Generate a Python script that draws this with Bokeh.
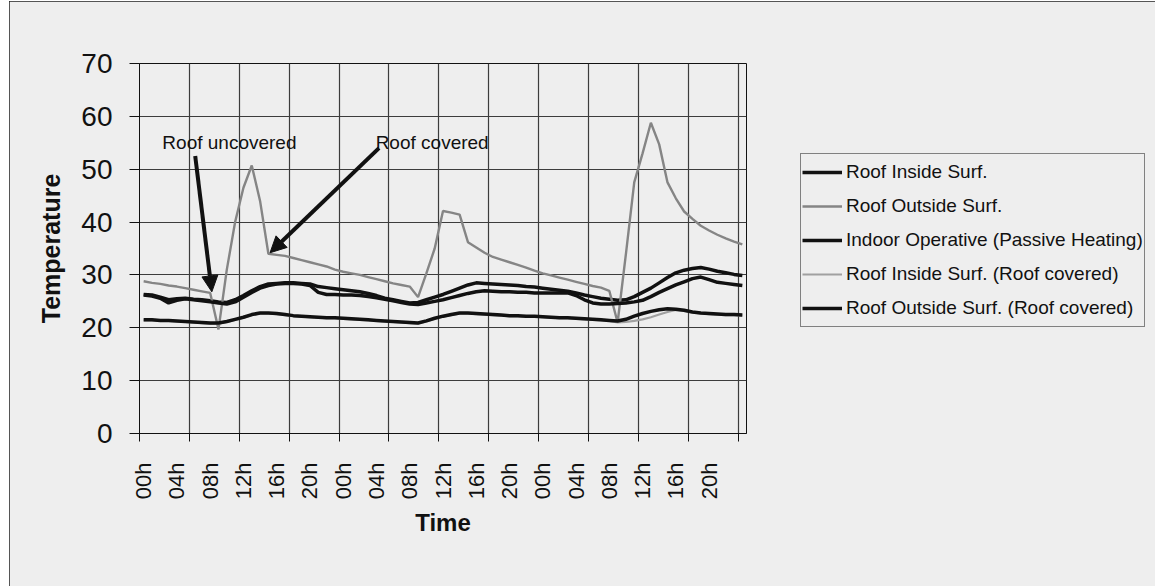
import math
from bokeh.plotting import figure
from bokeh.models import (FixedTicker, Legend, LegendItem, Arrow, NormalHead,
                          Label, Range1d)
from bokeh.embed import file_html
from bokeh.resources import INLINE

# ---------------- data (hourly, 3 days + 1) ----------------
HOUR_LABELS = ["00h", "04h", "08h", "12h", "16h", "20h",
               "00h", "04h", "08h", "12h", "16h", "20h",
               "00h", "04h", "08h", "12h", "16h", "20h"]

ROOF_INSIDE = [26.3, 26.2, 25.8, 25.3, 25.5, 25.6, 25.4, 25.3, 25.1, 24.9,
               24.8, 25.3, 26.1, 27.0, 27.8, 28.3, 28.4, 28.5, 28.5, 28.4,
               28.3, 27.8, 27.6, 27.4, 27.2, 27.0, 26.8, 26.5, 26.1, 25.6,
               25.3, 25.0, 24.7, 24.8, 25.3, 25.8, 26.3, 26.9, 27.5, 28.1,
               28.5, 28.4, 28.3, 28.2, 28.1, 28.0, 27.8, 27.7, 27.5, 27.3,
               27.1, 26.9, 26.6, 26.2, 25.9, 25.6, 25.4, 25.2, 25.3, 25.9,
               26.7, 27.5, 28.5, 29.5, 30.4, 30.9, 31.2, 31.4, 31.1, 30.7,
               30.4, 30.1, 29.9]

ROOF_OUTSIDE = [28.8, 28.5, 28.3, 28.0, 27.8, 27.5, 27.2, 26.9, 26.6, 19.7,
                31.0, 40.0, 46.5, 50.7, 44.0, 34.0, 33.8, 33.6, 33.2, 32.8,
                32.4, 32.0, 31.6, 31.0, 30.6, 30.3, 30.0, 29.6, 29.2, 28.8,
                28.4, 28.1, 27.8, 25.8, 30.3, 35.0, 42.1, 41.8, 41.4, 36.2,
                35.2, 34.2, 33.4, 32.9, 32.4, 31.9, 31.4, 30.8, 30.3, 29.9,
                29.5, 29.1, 28.7, 28.3, 27.9, 27.6, 27.0, 21.0, 34.0, 47.5,
                53.0, 58.8, 54.7, 47.5, 44.5, 42.0, 40.6, 39.3, 38.4, 37.6,
                36.9, 36.3, 35.8]

INDOOR_OPERATIVE = [26.2, 26.0, 25.6, 24.7, 25.2, 25.5, 25.3, 25.1, 24.9, 24.7,
                    24.5, 24.9, 25.8, 26.7, 27.5, 28.0, 28.3, 28.4, 28.4, 28.3,
                    28.0, 26.7, 26.3, 26.3, 26.2, 26.2, 26.1, 25.9, 25.7, 25.4,
                    25.1, 24.8, 24.5, 24.4, 24.7, 25.0, 25.3, 25.7, 26.1, 26.5,
                    26.8, 27.0, 26.9, 26.8, 26.8, 26.7, 26.7, 26.6, 26.6, 26.6,
                    26.6, 26.6, 26.1, 25.3, 24.7, 24.5, 24.5, 24.6, 24.7, 24.9,
                    25.2, 25.9, 26.7, 27.4, 28.1, 28.7, 29.3, 29.6, 29.1, 28.6,
                    28.4, 28.2, 28.0]

ROOF_INSIDE_COVERED = [21.4, 21.4, 21.3, 21.3, 21.2, 21.1, 21.0, 20.9, 20.8, 20.8,
                       21.1, 21.5, 21.9, 22.4, 22.7, 22.7, 22.6, 22.4, 22.2, 22.1,
                       22.0, 21.9, 21.8, 21.8, 21.7, 21.6, 21.5, 21.4, 21.3, 21.2,
                       21.1, 21.0, 20.9, 20.8, 21.2, 21.7, 22.1, 22.4, 22.7, 22.7,
                       22.6, 22.5, 22.4, 22.3, 22.2, 22.2, 22.1, 22.1, 22.0, 21.9,
                       21.8, 21.8, 21.7, 21.6, 21.5, 21.4, 21.3, 21.0, 21.1, 21.3,
                       21.6, 22.0, 22.5, 23.0, 23.4, 23.2, 22.9, 22.7, 22.6, 22.5,
                       22.4, 22.4, 22.3]

ROOF_OUTSIDE_COVERED = [21.5, 21.5, 21.4, 21.4, 21.3, 21.2, 21.1, 21.0, 20.9, 20.9,
                        21.2, 21.6, 22.0, 22.5, 22.8, 22.8, 22.7, 22.5, 22.3, 22.2,
                        22.1, 22.0, 21.9, 21.9, 21.8, 21.7, 21.6, 21.5, 21.4, 21.3,
                        21.2, 21.1, 21.0, 20.9, 21.3, 21.8, 22.2, 22.5, 22.8, 22.8,
                        22.7, 22.6, 22.5, 22.4, 22.3, 22.3, 22.2, 22.2, 22.1, 22.0,
                        21.9, 21.9, 21.8, 21.7, 21.6, 21.5, 21.4, 21.3, 21.6, 22.2,
                        22.7, 23.1, 23.4, 23.6, 23.5, 23.3, 23.0, 22.8, 22.7, 22.6,
                        22.5, 22.5, 22.4]

SERIES_NAMES = ["Roof Inside Surf.", "Roof Outside Surf.",
                "Indoor Operative (Passive Heating)",
                "Roof Inside Surf. (Roof covered)",
                "Roof Outside Surf. (Roof covered)"]

# annotation anchors (data units: category index, temperature)
UNCOVERED_TEXT = (2.75, 55.0)
UNCOVERED_ARROW = (6.7, 52.5, 8.7, 26.8)
COVERED_TEXT = (28.4, 55.0)
COVERED_ARROW = (28.8, 54.0, 15.7, 34.2)

# ---------------- styling ----------------
BG = "#eeeeee"
INK = "#111111"
GRAY = "#858585"
LIGHTGRAY = "#a0a0a0"
GRID = "#3c3c3c"
FONT = "Liberation Sans"

N = len(ROOF_INSIDE)
xs = [i + 0.5 for i in range(N)]
grid_ticks = [float(t) for t in range(0, N, 6)]
label_ticks = [4 * k + 0.5 for k in range(len(HOUR_LABELS))]

p = figure(frame_width=607, frame_height=370, output_backend="svg", toolbar_location=None,
           x_range=Range1d(0, N), y_range=Range1d(0, 70),
           min_border_left=130, min_border_right=8,
           min_border_top=62, min_border_bottom=153,
           background_fill_color=BG, border_fill_color=BG)

p.outline_line_color = INK
p.outline_line_width = 1

# x axis: labels every 4 h, tick marks every 6 h
p.xaxis.ticker = FixedTicker(ticks=label_ticks, minor_ticks=grid_ticks)
p.xaxis.major_label_overrides = {t: lab for t, lab in zip(label_ticks, HOUR_LABELS)}
p.xaxis.major_label_orientation = math.pi / 2
p.xaxis.major_tick_out = 0
p.xaxis.major_tick_in = 0
p.xaxis.minor_tick_out = 8
p.xaxis.minor_tick_in = 0
p.xaxis.minor_tick_line_color = INK
p.xaxis.minor_tick_line_width = 1
p.xaxis.major_label_standoff = 21
p.xaxis.major_label_text_font = FONT
p.xaxis.major_label_text_font_size = "22px"
p.xaxis.major_label_text_color = INK
p.xaxis.axis_label = "Time"
p.xaxis.axis_label_text_font = FONT
p.xaxis.axis_label_text_font_size = "24px"
p.xaxis.axis_label_text_font_style = "bold"
p.xaxis.axis_label_text_color = INK
p.xaxis.axis_label_standoff = 7
p.xaxis.axis_line_color = INK

p.xgrid.ticker = FixedTicker(ticks=grid_ticks)
p.xgrid.grid_line_color = GRID
p.xgrid.grid_line_width = 1.2

# y axis
p.yaxis.ticker = FixedTicker(ticks=list(range(0, 71, 10)))
p.yaxis.major_tick_out = 10
p.yaxis.major_tick_in = 0
p.yaxis.minor_tick_line_color = None
p.yaxis.major_tick_line_color = INK
p.yaxis.major_label_standoff = 17
p.yaxis.major_label_text_font = FONT
p.yaxis.major_label_text_font_size = "28px"
p.yaxis.major_label_text_color = INK
p.yaxis.axis_label = "Temperature"
p.yaxis.axis_label_text_font = FONT
p.yaxis.axis_label_text_font_size = "25px"
p.yaxis.axis_label_text_font_style = "bold"
p.yaxis.axis_label_text_color = INK
p.yaxis.axis_label_standoff = 13
p.yaxis.axis_line_color = INK
p.ygrid.grid_line_color = GRID
p.ygrid.grid_line_width = 1.2

# ---------------- series ----------------
r1 = p.line(xs, ROOF_INSIDE, line_color=INK, line_width=3.5)
r2 = p.line(xs, ROOF_OUTSIDE, line_color=GRAY, line_width=2.4)
r3 = p.line(xs, INDOOR_OPERATIVE, line_color=INK, line_width=3.5)
r4 = p.line(xs, ROOF_INSIDE_COVERED, line_color=LIGHTGRAY, line_width=2.2)
r5 = p.line(xs, ROOF_OUTSIDE_COVERED, line_color=INK, line_width=3.5)

legend = Legend(items=[LegendItem(label=n, renderers=[r])
                       for n, r in zip(SERIES_NAMES, [r1, r2, r3, r4, r5])],
                location=(54, 106))
legend.label_text_font = FONT
legend.label_text_font_size = "19px"
legend.label_text_color = INK
legend.label_height = 34
legend.glyph_height = 34
legend.glyph_width = 40
legend.label_standoff = 4
legend.spacing = 0
legend.padding = 1
legend.margin = 0
legend.border_line_color = INK
legend.border_line_width = 1
legend.background_fill_color = BG
legend.background_fill_alpha = 1
p.add_layout(legend, "right")

# ---------------- annotations ----------------
for (tx, ty), txt in [(UNCOVERED_TEXT, "Roof uncovered"), (COVERED_TEXT, "Roof covered")]:
    p.add_layout(Label(x=tx, y=ty, text=txt, text_font=FONT, text_font_size="19px",
                       text_color=INK, text_align="left", text_baseline="alphabetic"))

for (x0, y0, x1, y1) in [UNCOVERED_ARROW, COVERED_ARROW]:
    p.add_layout(Arrow(end=NormalHead(size=16, fill_color=INK, line_color=INK),
                       x_start=x0, y_start=y0, x_end=x1, y_end=y1,
                       line_width=4, line_color=INK))

p.styles = {"margin-left": "9px", "margin-top": "1px",
            "outline": "1.5px solid #222222", "outline-offset": "-1.5px"}

open("out.html", "w").write(file_html(p, INLINE))
